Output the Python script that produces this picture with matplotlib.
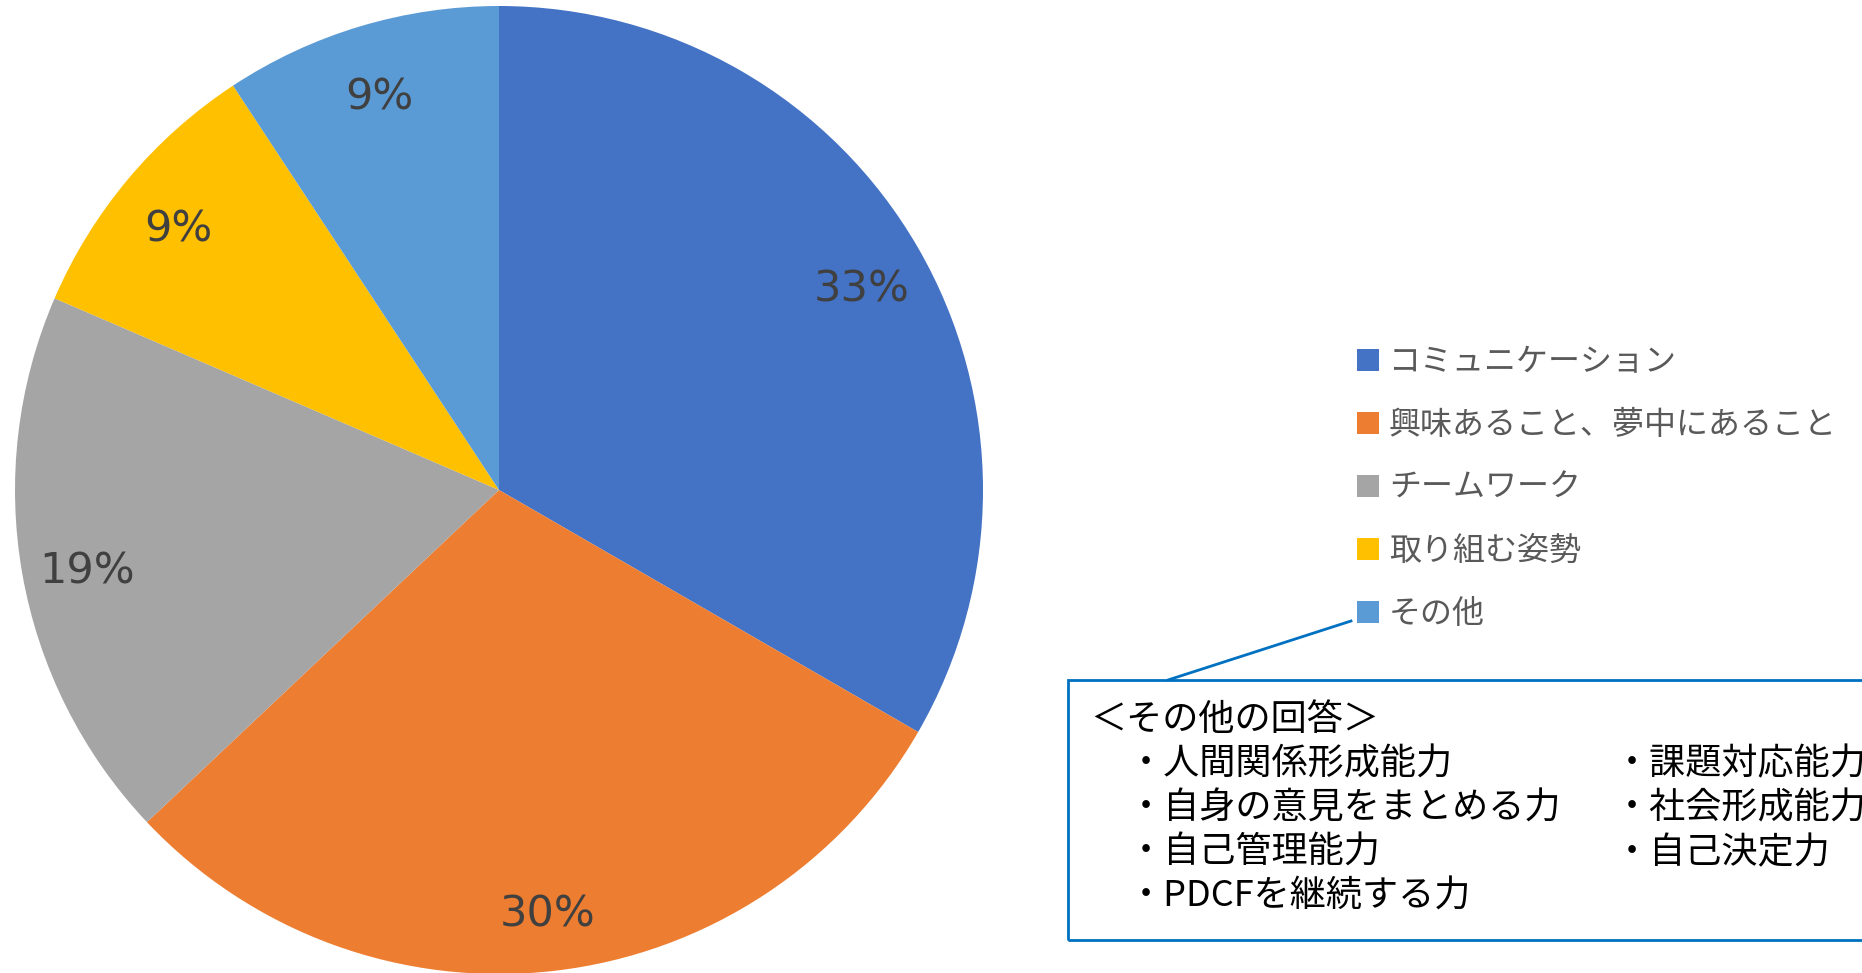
import matplotlib.pyplot as plt
from matplotlib.patches import Rectangle
from matplotlib.lines import Line2D

# data
labels = ['コミュニケーション', '興味あること、夢中にあること', 'チームワーク', '取り組む姿勢', 'その他']
counts = [18, 16, 10, 5, 5]
colors = ['#4472C4', '#ED7D31', '#A5A5A5', '#FFC000', '#5B9BD5']

note_title = '＜その他の回答＞'
note_col1 = ['・人間関係形成能力', '・自身の意見をまとめる力', '・自己管理能力', '・PDCFを継続する力']
note_col2 = ['・課題対応能力', '・社会形成能力', '・自己決定力']

plt.rcParams['font.family'] = ['Noto Sans CJK JP', 'DejaVu Sans']

W, H = 1862, 973
fig = plt.figure(figsize=(W / 100, H / 100), dpi=100)

# pie: center (499, 490) px, radius 484 px
cx, cy, r = 499, 490, 484
ax = fig.add_axes([(cx - r) / W, (H - cy - r) / H, 2 * r / W, 2 * r / H])
wedges, texts, autotexts = ax.pie(
    counts, colors=colors, startangle=90, counterclock=False,
    autopct='%.0f%%', pctdistance=0.865, radius=1,
    textprops={'fontsize': 31, 'color': '#404040', 'family': 'DejaVu Sans'})
# excel puts the labels a little lower than matplotlib does
for t in autotexts:
    x, y = t.get_position()
    t.set_position((x, y - 0.018))
ax.set_xlim(-1, 1)
ax.set_ylim(-1, 1)
ax.set_aspect('equal')
ax.axis('off')

leg = fig.legend(wedges, labels, loc='upper left',
                 bbox_to_anchor=(1357 / W, 1 - 346 / H),
                 frameon=False, fontsize=23, labelcolor='#595959',
                 handlelength=0.7, handleheight=0.7, handletextpad=0.3,
                 labelspacing=0.97, borderpad=0, borderaxespad=0)

# callout box for "その他"
box_c = '#0070C0'
fig.add_artist(Rectangle((1068 / W, 1 - 940 / H), (1920 - 1068) / W, 260 / H,
                         transform=fig.transFigure, fill=False,
                         edgecolor=box_c, lw=2))
fig.add_artist(Line2D([1168 / W, 1351 / W], [1 - 680 / H, 1 - 621 / H],
                      transform=fig.transFigure, color=box_c, lw=2))

fig.text(1090 / W, 1 - 720 / H, note_title, fontsize=26, va='center', color='black')
row_y = [764, 809, 853, 897]
for i, t in enumerate(note_col1):
    fig.text(1128 / W, 1 - row_y[i] / H, t, fontsize=26, va='center', color='black')
for i, t in enumerate(note_col2):
    fig.text(1614 / W, 1 - row_y[i] / H, t, fontsize=26, va='center', color='black')

fig.savefig('out.png', dpi=100)
